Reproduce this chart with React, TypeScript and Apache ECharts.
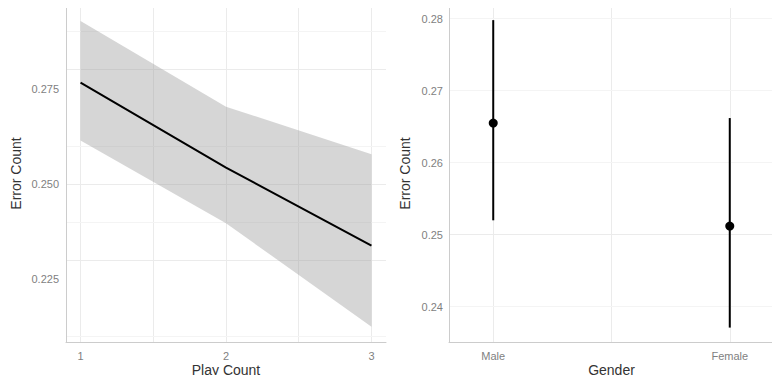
import React, { useEffect, useRef } from "react";
import * as echarts from "echarts";

// Left panel: Play Count vs Error Count (fit + confidence band)
const playCount = [1, 2, 3];
const fitValues = [0.2766, 0.2543, 0.2338];
const bandLower = [0.2614, 0.2397, 0.2125];
const bandUpper = [0.2928, 0.2703, 0.2578];
const leftXTicks = [1, 2, 3];
const leftXGrid = [1, 1.5, 2, 2.5, 3];
const leftYTicks = [0.225, 0.25, 0.275];
const leftYMinor = [0.2125, 0.2375, 0.2625, 0.2875];

// Right panel: Gender vs Error Count (point + interval)
const genders = ["Male", "Female"];
const genderPos = [1, 2];
const genderMean = [0.2655, 0.2512];
const genderLow = [0.252, 0.2371];
const genderHigh = [0.2798, 0.2662];
const rightXGrid = [1, 1.5, 2];
const rightYTicks = [0.24, 0.25, 0.26, 0.27, 0.28];
const rightYMinor = [0.245, 0.255, 0.265, 0.275];

const FONT = "Liberation Sans, Arial, Helvetica, sans-serif";
const MAJOR = "#EBEBEB";
const MINOR = "#F4F4F4";

function gridLines(xIndex: number, yIndex: number, xs: number[], ysMajor: number[], ysMinor: number[]) {
  const data: any[] = [];
  xs.forEach((v) => data.push({ xAxis: v, lineStyle: { color: MAJOR, width: 1, type: "solid" } }));
  ysMajor.forEach((v) => data.push({ yAxis: v, lineStyle: { color: MAJOR, width: 1, type: "solid" } }));
  ysMinor.forEach((v) => data.push({ yAxis: v, lineStyle: { color: MINOR, width: 1, type: "solid" } }));
  return {
    type: "line",
    xAxisIndex: xIndex,
    yAxisIndex: yIndex,
    data: [],
    silent: true,
    z: 0,
    markLine: {
      silent: true,
      z: 0,
      symbol: ["none", "none"],
      label: { show: false },
      emphasis: { disabled: true },
      animation: false,
      data,
    },
  };
}

export default function App() {
  const ref = useRef<HTMLDivElement>(null);
  useEffect(() => {
    if (!ref.current) return;
    const chart = echarts.init(ref.current, undefined, { renderer: "svg" });
    const axisLine = { show: true, lineStyle: { color: "#CCCCCC", width: 1 } };
    const labelStyle = { color: "#7F7F7F", fontSize: 11, fontFamily: FONT };
    const nameStyle = { color: "#333333", fontSize: 14, fontFamily: FONT };
    const option: any = {
      animation: false,
      grid: [
        { left: 66, right: 394, top: 5, bottom: 41 },
        { left: 449, right: 6, top: 5, bottom: 41 },
      ],
      xAxis: [
        {
          type: "value",
          gridIndex: 0,
          min: 0.9,
          max: 3.1,
          z: 2,
          axisLine,
          axisTick: { show: false },
          splitLine: { show: false },
          axisLabel: {
            ...labelStyle,
            margin: 8,
            customValues: leftXTicks,
            formatter: (v: number) => String(v),
          },
          name: "Play Count",
          nameLocation: "middle",
          nameGap: 21,
          nameMoveOverlap: false,
          nameTextStyle: nameStyle,
        },
        {
          type: "value",
          gridIndex: 1,
          min: 0.813,
          max: 2.187,
          z: 2,
          axisLine,
          axisTick: { show: false },
          splitLine: { show: false },
          axisLabel: {
            ...labelStyle,
            margin: 8,
            customValues: genderPos,
            formatter: (v: number) => genders[genderPos.indexOf(v)] ?? "",
          },
          name: "Gender",
          nameLocation: "middle",
          nameGap: 21,
          nameMoveOverlap: false,
          nameTextStyle: nameStyle,
        },
      ],
      yAxis: [
        {
          type: "value",
          gridIndex: 0,
          min: 0.2085,
          max: 0.297,
          z: 2,
          axisLine,
          axisTick: { show: false },
          splitLine: { show: false },
          axisLabel: {
            ...labelStyle,
            margin: 7,
            customValues: leftYTicks,
            formatter: (v: number) => v.toFixed(3),
          },
          name: "Error Count",
          nameLocation: "middle",
          nameGap: 43,
          nameMoveOverlap: false,
          nameTextStyle: nameStyle,
        },
        {
          type: "value",
          gridIndex: 1,
          min: 0.2351,
          max: 0.2819,
          z: 2,
          axisLine,
          axisTick: { show: false },
          splitLine: { show: false },
          axisLabel: {
            ...labelStyle,
            margin: 6,
            customValues: rightYTicks,
            formatter: (v: number) => v.toFixed(2),
          },
          name: "Error Count",
          nameLocation: "middle",
          nameGap: 37,
          nameMoveOverlap: false,
          nameTextStyle: nameStyle,
        },
      ],
      series: [
        gridLines(0, 0, leftXGrid, leftYTicks, leftYMinor),
        gridLines(1, 1, rightXGrid, rightYTicks, rightYMinor),
        {
          type: "custom",
          xAxisIndex: 0,
          yAxisIndex: 0,
          silent: true,
          z: 3,
          data: [[playCount[0], bandLower[0]]],
          renderItem: (params: any, api: any) => {
            const pts: number[][] = [];
            for (let i = 0; i < playCount.length; i++) pts.push(api.coord([playCount[i], bandUpper[i]]));
            for (let i = playCount.length - 1; i >= 0; i--) pts.push(api.coord([playCount[i], bandLower[i]]));
            return {
              type: "polygon",
              shape: { points: pts },
              style: { fill: "rgba(153,153,153,0.4)" },
            };
          },
        },
        {
          type: "line",
          xAxisIndex: 0,
          yAxisIndex: 0,
          z: 6,
          symbol: "none",
          data: playCount.map((x, i) => [x, fitValues[i]]),
          lineStyle: { color: "#000000", width: 2 },
        },
        {
          type: "custom",
          xAxisIndex: 1,
          yAxisIndex: 1,
          z: 6,
          data: genderPos.map((x, i) => [x, genderLow[i], genderHigh[i]]),
          renderItem: (params: any, api: any) => {
            const a = api.coord([api.value(0), api.value(1)]);
            const b = api.coord([api.value(0), api.value(2)]);
            return {
              type: "line",
              shape: { x1: a[0], y1: a[1], x2: b[0], y2: b[1] },
              style: { stroke: "#000000", lineWidth: 2 },
            };
          },
        },
        {
          type: "scatter",
          xAxisIndex: 1,
          yAxisIndex: 1,
          z: 7,
          symbol: "circle",
          symbolSize: 9,
          itemStyle: { color: "#000000", opacity: 1 },
          data: genderPos.map((x, i) => [x, genderMean[i]]),
        },
      ],
    };
    chart.setOption(option);
    return () => chart.dispose();
  }, []);
  return <div ref={ref} style={{ width: 780, height: 383, margin: -8, background: "#fff" }} />;
}
